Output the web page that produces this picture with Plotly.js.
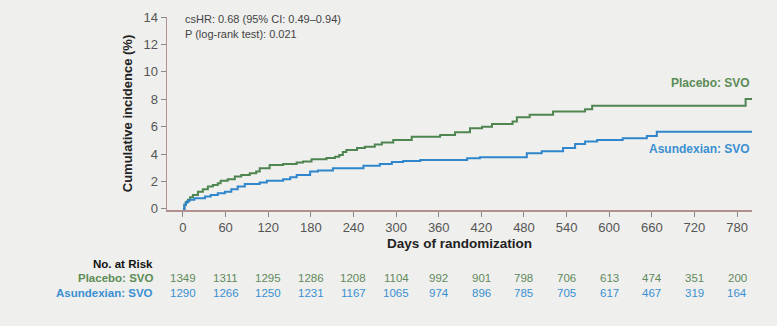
<!DOCTYPE html>
<html>
<head>
<meta charset="utf-8">
<script src="https://cdn.plot.ly/plotly-3.0.1.min.js"></script>
<style>
html,body{margin:0;padding:0;background:#efefed;}
#chart{width:777px;height:326px;}
</style>
</head>
<body>
<div id="chart"></div>
<script>
// Placebo: SVO (green) step curve
var placeboDays = [0, 2, 4, 7, 10, 14, 21, 28, 35, 42, 49, 53, 63, 73, 82, 94, 103, 108, 122, 141, 160, 169, 181, 202, 214, 220, 225, 230, 245, 256, 270, 280, 296, 322, 362, 383, 404, 421, 435, 464, 470, 488, 521, 566, 576, 792, 801];
var placeboVals = [0, 0.3, 0.5, 0.66, 0.85, 1.02, 1.26, 1.44, 1.63, 1.75, 1.87, 2.06, 2.17, 2.36, 2.48, 2.6, 2.72, 2.97, 3.21, 3.28, 3.38, 3.45, 3.62, 3.72, 3.8, 3.94, 4.15, 4.3, 4.45, 4.54, 4.7, 4.84, 5.03, 5.27, 5.4, 5.6, 5.88, 6.0, 6.2, 6.37, 6.69, 6.86, 7.1, 7.27, 7.53, 8.02, 8.02];
// Asundexian: SVO (blue) step curve
var asunDays = [0, 2, 4, 6, 9, 16, 31, 39, 49, 59, 68, 77, 87, 108, 118, 141, 151, 160, 179, 190, 211, 254, 277, 294, 310, 334, 400, 418, 484, 505, 535, 552, 566, 583, 619, 653, 667, 801];
var asunVals = [0, 0.3, 0.44, 0.55, 0.66, 0.78, 0.9, 1.02, 1.14, 1.26, 1.44, 1.63, 1.82, 1.92, 2.06, 2.17, 2.31, 2.48, 2.72, 2.8, 2.97, 3.14, 3.28, 3.43, 3.5, 3.57, 3.7, 3.77, 4.06, 4.2, 4.45, 4.74, 4.91, 5.03, 5.15, 5.32, 5.63, 5.63];

var tickDays = [0, 60, 120, 180, 240, 300, 360, 420, 480, 540, 600, 660, 720, 780];
var riskPlacebo = [1349, 1311, 1295, 1286, 1208, 1104, 992, 901, 798, 706, 613, 474, 351, 200];
var riskAsun = [1290, 1266, 1250, 1231, 1167, 1065, 974, 896, 785, 705, 617, 467, 319, 164];
var yTicks = [0, 2, 4, 6, 8, 10, 12, 14];

var green = '#4f8550';
var blue = '#2f86cc';
var greenText = '#5b8c56';
var blueText = '#3a8fd2';
var FF = 'Liberation Sans, Arial, sans-serif';

var traces = [
  {x: placeboDays, y: placeboVals, type: 'scatter', mode: 'lines', line: {shape: 'hv', color: green, width: 2}, name: 'Placebo: SVO', hoverinfo: 'skip'},
  {x: asunDays, y: asunVals, type: 'scatter', mode: 'lines', line: {shape: 'hv', color: blue, width: 2}, name: 'Asundexian: SVO', hoverinfo: 'skip'}
];

var ann = [];
ann.push({xref: 'paper', yref: 'paper', x: 0.027, y: 0.99, xanchor: 'left', yanchor: 'middle', showarrow: false,
  text: 'csHR: 0.68 (95% CI: 0.49–0.94)', font: {family: FF, size: 11, color: '#444'}});
ann.push({xref: 'paper', yref: 'paper', x: 0.027, y: 0.912, xanchor: 'left', yanchor: 'middle', showarrow: false,
  text: 'P (log-rank test): 0.021', font: {family: FF, size: 11, color: '#444'}});
ann.push({xref: 'paper', yref: 'paper', x: 1.0, y: 0.658, xanchor: 'right', yanchor: 'middle', showarrow: false,
  text: '<b>Placebo: SVO</b>', font: {family: FF, size: 12, color: greenText}});
ann.push({xref: 'paper', yref: 'paper', x: 1.0, y: 0.316, xanchor: 'right', yanchor: 'middle', showarrow: false,
  text: '<b>Asundexian: SVO</b>', font: {family: FF, size: 12, color: blueText}});

// At-risk table
var rowY = {head: -0.28, p: -0.352, a: -0.43};
ann.push({xref: 'paper', yref: 'paper', x: -0.02, y: rowY.head, xanchor: 'right', yanchor: 'middle', showarrow: false,
  text: '<b>No. at Risk</b>', font: {family: FF, size: 11.5, color: '#111'}});
ann.push({xref: 'paper', yref: 'paper', x: -0.02, y: rowY.p, xanchor: 'right', yanchor: 'middle', showarrow: false,
  text: '<b>Placebo: SVO</b>', font: {family: FF, size: 11.5, color: greenText}});
ann.push({xref: 'paper', yref: 'paper', x: -0.02, y: rowY.a, xanchor: 'right', yanchor: 'middle', showarrow: false,
  text: '<b>Asundexian: SVO</b>', font: {family: FF, size: 11.5, color: blueText}});
for (var i = 0; i < tickDays.length; i++) {
  ann.push({xref: 'x', yref: 'paper', x: tickDays[i], y: rowY.p, xanchor: 'center', yanchor: 'middle', showarrow: false,
    text: String(riskPlacebo[i]), font: {family: FF, size: 11.5, color: '#5f8a5c'}});
  ann.push({xref: 'x', yref: 'paper', x: tickDays[i], y: rowY.a, xanchor: 'center', yanchor: 'middle', showarrow: false,
    text: String(riskAsun[i]), font: {family: FF, size: 11.5, color: '#3a8fd2'}});
}

var layout = {
  width: 777, height: 326,
  margin: {l: 167, r: 25, t: 17, b: 116},
  paper_bgcolor: '#efefed', plot_bgcolor: '#efefed',
  showlegend: false,
  font: {family: FF, color: '#555'},
  xaxis: {
    range: [-22.5, 801], tickvals: tickDays, ticktext: tickDays.map(String),
    showgrid: false, zeroline: false, showline: true, linecolor: '#b48f8f', linewidth: 1.5,
    ticks: 'outside', ticklen: 5, tickcolor: '#888', tickfont: {size: 13, color: '#555'},
    title: {text: '<b>Days of randomization</b>', font: {size: 13.5, color: '#222'}, standoff: 4}
  },
  yaxis: {
    range: [-0.08, 14], tickvals: yTicks, ticktext: yTicks.map(String),
    showgrid: false, zeroline: false, showline: true, linecolor: '#b48f8f', linewidth: 1.5,
    ticks: 'outside', ticklen: 5, tickcolor: '#888', tickfont: {size: 13, color: '#555'},
    title: {text: '<b>Cumulative incidence (%)</b>', font: {size: 13, color: '#222'}, standoff: 8}
  },
  annotations: ann
};

Plotly.newPlot('chart', traces, layout, {displayModeBar: false, staticPlot: true});
</script>
</body>
</html>
